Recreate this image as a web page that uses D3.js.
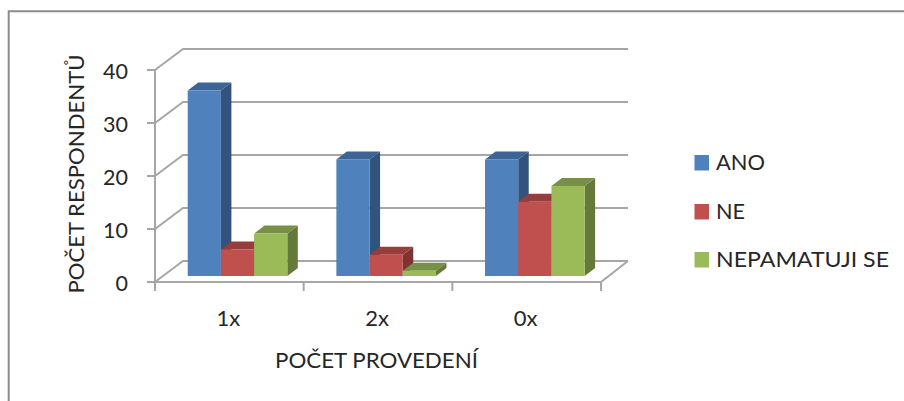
<!DOCTYPE html>
<html>
<head>
<meta charset="utf-8">
<script src="https://cdn.jsdelivr.net/npm/d3@7/dist/d3.min.js"></script>
<style>
html,body{margin:0;padding:0;background:#fff;}
svg{display:block;}
text{font-family:Lato,"Open Sans",sans-serif;fill:#262626;}
</style>
</head>
<body>
<svg id="chart" width="904" height="401"></svg>
<script>
const categories = ["1x", "2x", "0x"];
const seriesNames = ["ANO", "NE", "NEPAMATUJI SE"];
const ano = [35, 22, 22];
const ne = [5, 4, 14];
const nepamatuji = [8, 1, 17];
const yTicks = [0, 10, 20, 30, 40];
const seriesValues = [ano, ne, nepamatuji];

// front, top and side shades of each series
const fronts = ["#4f81bd", "#c0504d", "#9bbb59"];
const tops = ["#3c6494", "#973d3b", "#769045"];
const sides = ["#32537d", "#7f3331", "#64793a"];

const svg = d3.select("#chart");
const gridColor = "#a6a6a6";

// chart frame
svg.append("path")
  .attr("d", "M8.7,401V11.3H904")
  .attr("fill", "none").attr("stroke", "#8c8c8c").attr("stroke-width", 2);

// front plane of the 3-D plot box
const x0 = 155, x1 = 601, yFront0 = 282, yFront40 = 70;
const wallDx = 28, wallDy = -21;
const barDx = 10.5, barDy = -8;

const y = d3.scaleLinear().domain([0, 40]).range([yFront0, yFront40]);
const xBand = d3.scaleBand().domain(categories).range([x0, x1]);
const barLift = 6;

const walls = svg.append("g").attr("fill", "none").attr("stroke", gridColor).attr("stroke-width", 2);
yTicks.forEach(t => {
  const yy = y(t);
  // side wall diagonal, back wall gridline
  walls.append("path").attr("d", `M${x0},${yy}L${x0 + wallDx},${yy + wallDy}H${x1 + wallDx - 1}`);
  // value tick
  walls.append("path").attr("d", `M${x0 - 8},${yy}H${x0}`);
});
walls.append("path").attr("d", `M${x0},${y(40)}V${yFront0 + 9}`);
walls.append("path").attr("d", `M${x0},${yFront0}H${x1}L${x1 + wallDx - 1},${yFront0 + wallDy}`);
[...categories.keys(), categories.length].forEach(i => {
  const xx = x0 + i * xBand.step();
  walls.append("path").attr("d", `M${xx},${yFront0}v9`);
});

// clustered bars inside each band
const clusterPad = 32.7;
const xInner = d3.scaleBand().domain(d3.range(seriesNames.length))
  .range([clusterPad, clusterPad + 99.6]);

const bars = svg.append("g");
categories.forEach((cat, ci) => {
  seriesValues.forEach((vals, si) => {
    const bx = xBand(cat) + xInner(si);
    const w = xInner.bandwidth();
    const base = yFront0 - barLift;
    const top = base - (yFront0 - y(vals[ci]));
    const g = bars.append("g");
    g.append("path").attr("fill", sides[si])
      .attr("d", `M${bx + w},${top}l${barDx},${barDy}V${base + barDy}L${bx + w},${base}Z`);
    g.append("path").attr("fill", tops[si])
      .attr("d", `M${bx},${top}l${barDx},${barDy}h${w}l${-barDx},${-barDy}Z`);
    g.append("rect").attr("fill", fronts[si])
      .attr("x", bx).attr("y", top).attr("width", w).attr("height", base - top);
  });
});

// value labels
svg.append("g").selectAll("text").data(yTicks).join("text")
  .attr("x", 128).attr("y", d => y(d) + 8.5)
  .attr("text-anchor", "end").attr("font-size", 21.5).text(d => d);

// category labels
svg.append("g").selectAll("text").data(categories).join("text")
  .attr("x", d => xBand(d) + xBand.bandwidth() / 2 - 1).attr("y", 326)
  .attr("text-anchor", "middle").attr("font-size", 22).text(d => d);

// axis titles
svg.append("text").attr("x", 376.5).attr("y", 367.5)
  .attr("text-anchor", "middle").attr("font-size", 21.5)
  .attr("textLength", 203).attr("lengthAdjust", "spacingAndGlyphs").text("POČET PROVEDENÍ");
svg.append("text")
  .attr("transform", "translate(84,174) rotate(-90)")
  .attr("text-anchor", "middle").attr("font-size", 21.5)
  .attr("textLength", 239).attr("lengthAdjust", "spacingAndGlyphs").text("POČET RESPONDENTŮ");

// legend
const legendY = [163, 212, 260];
const legendWidths = [49, 29, 173];
const legend = svg.append("g");
seriesNames.forEach((name, i) => {
  legend.append("rect").attr("x", 694.5).attr("y", legendY[i] - 8)
    .attr("width", 14.5).attr("height", 15.5).attr("fill", fronts[i]);
  legend.append("text").attr("x", 716).attr("y", legendY[i] + 7)
    .attr("font-size", 21.5)
    .attr("textLength", legendWidths[i]).attr("lengthAdjust", "spacingAndGlyphs").text(name);
});
</script>
</body>
</html>
